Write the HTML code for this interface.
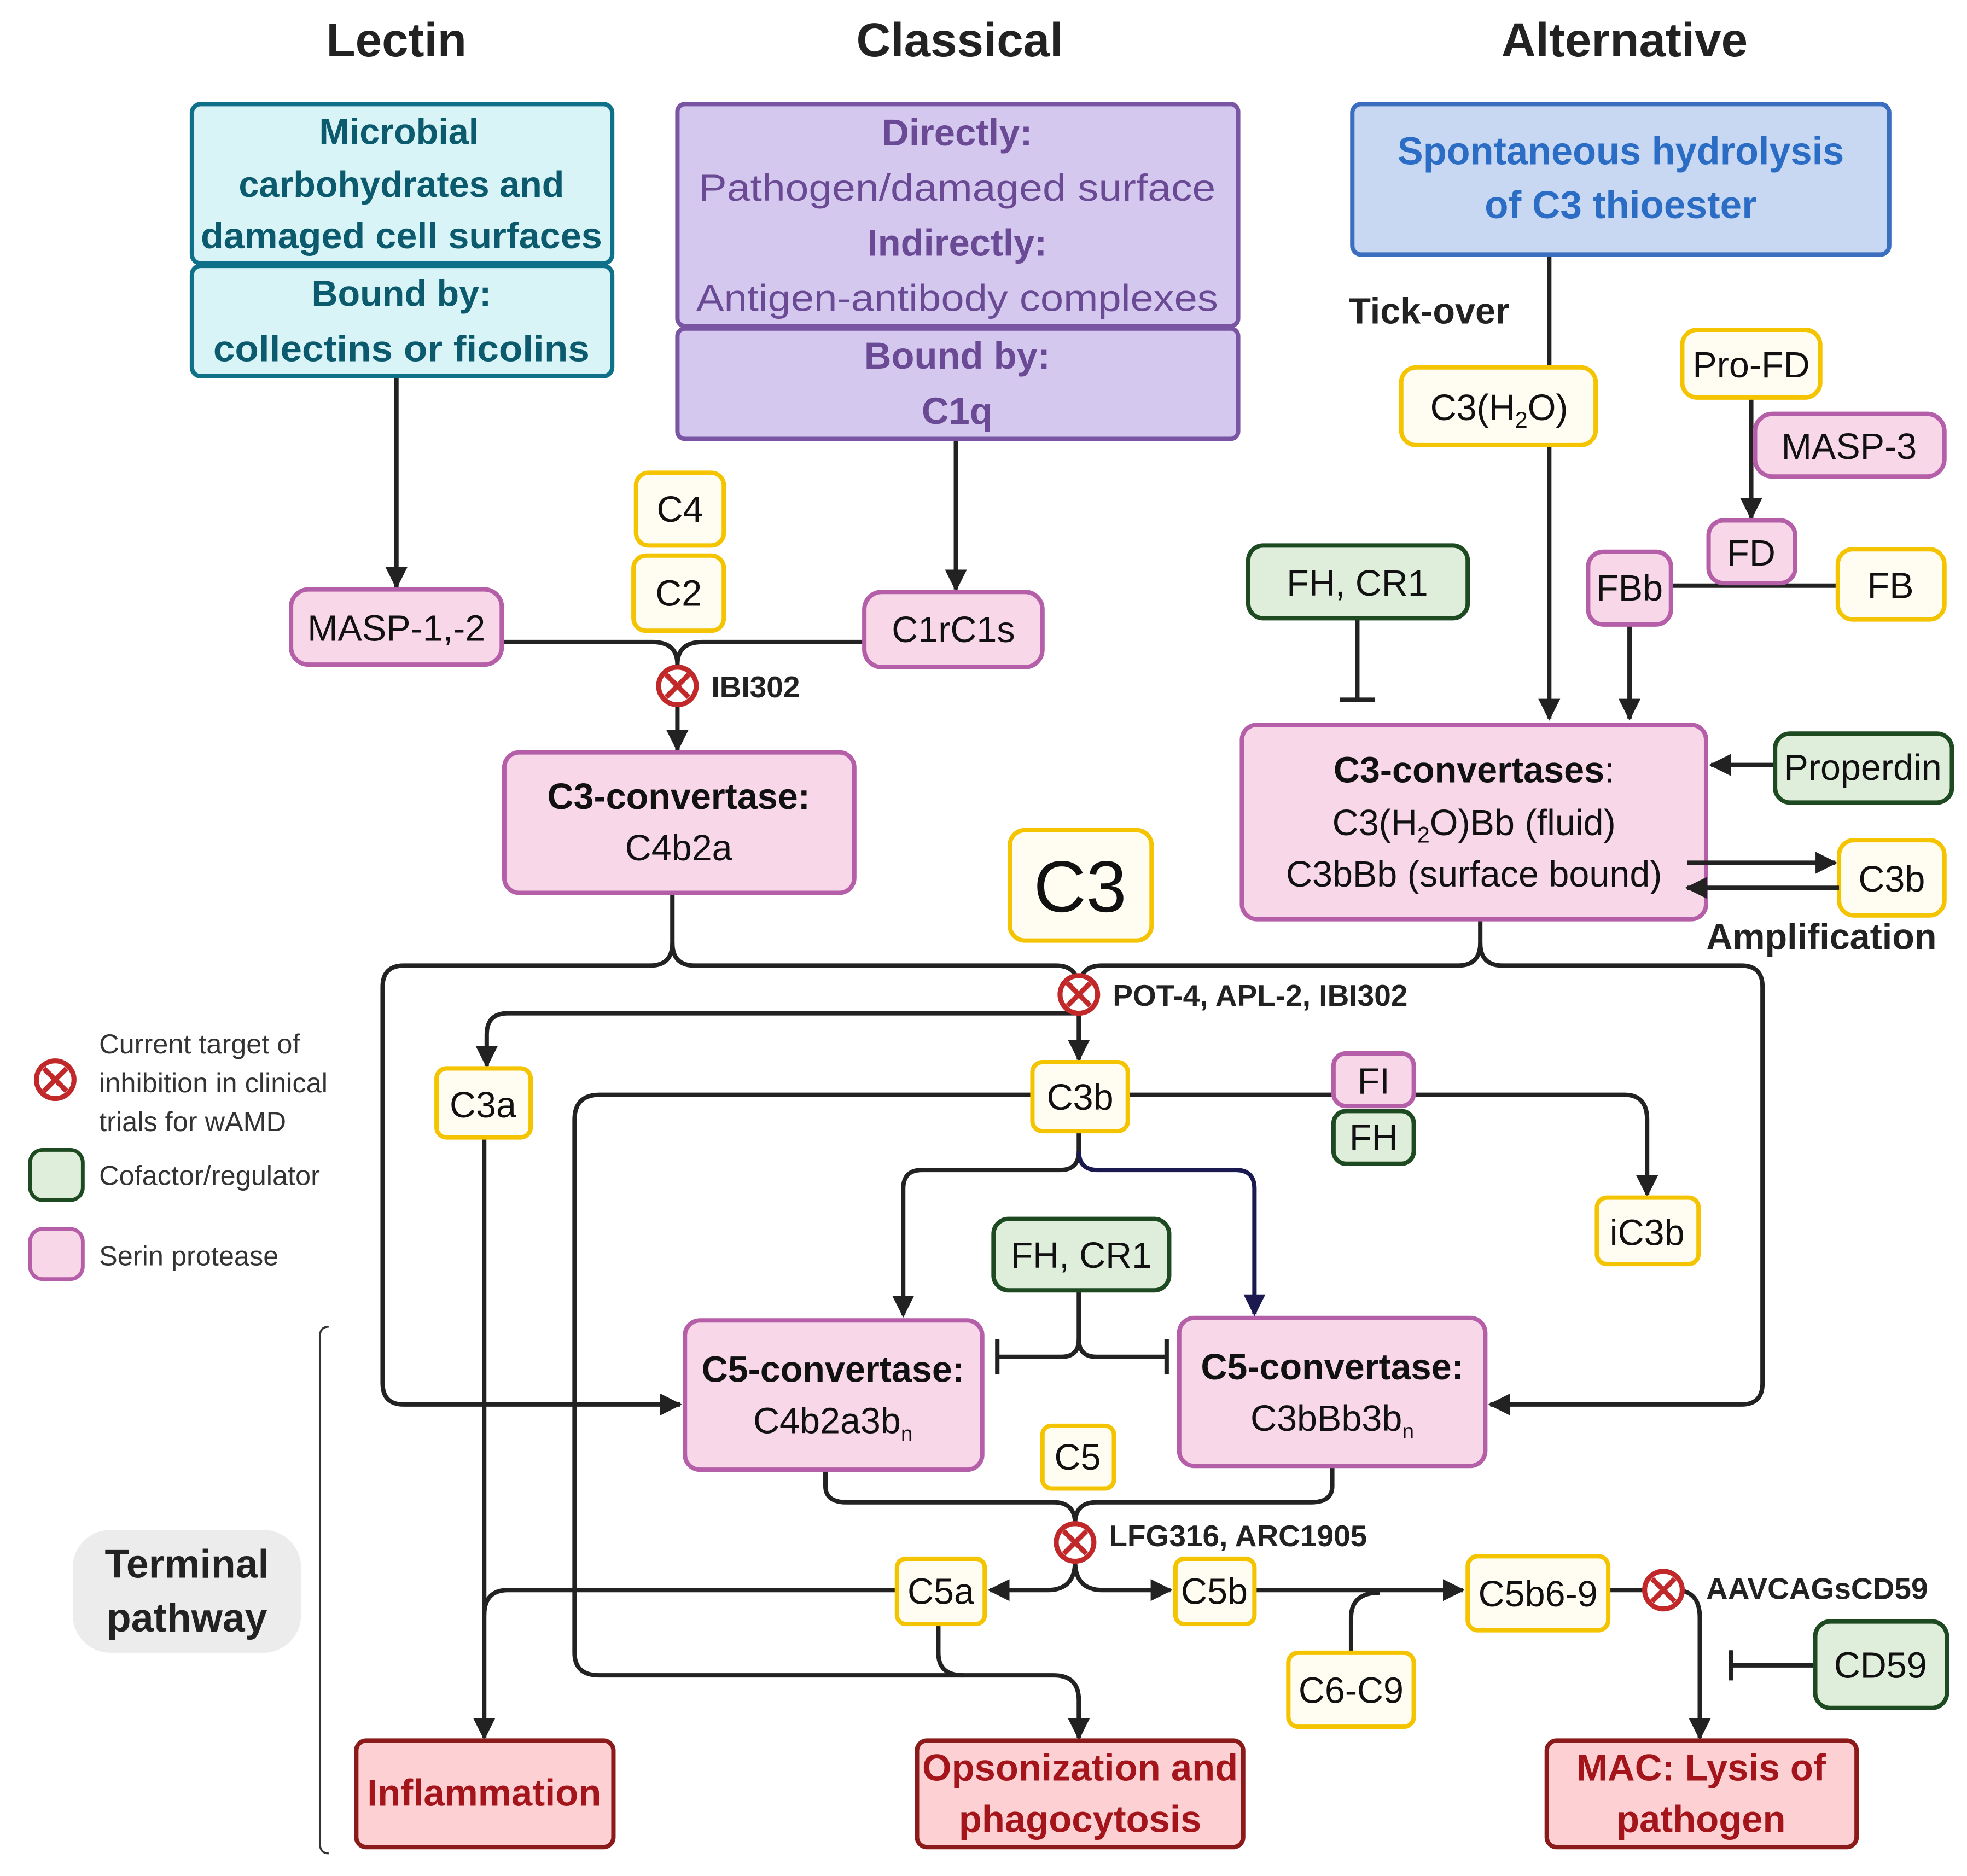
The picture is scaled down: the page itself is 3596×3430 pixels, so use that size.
<!DOCTYPE html>
<html><head><meta charset="utf-8"><style>
html,body{margin:0;padding:0;background:#fff;}
svg{display:block;}
text{font-family:"Liberation Sans Narrow","Liberation Sans",sans-serif;}
</style></head><body>
<svg width="3596" height="3430" viewBox="0 0 1568 1496" preserveAspectRatio="none" xmlns="http://www.w3.org/2000/svg">
<defs>
<marker id="a" viewBox="0 0 10 10" refX="9" refY="5" markerWidth="5" markerHeight="5" orient="auto" markerUnits="strokeWidth"><path d="M0,0L10,5L0,10z" fill="#222"/></marker>
<marker id="an" viewBox="0 0 10 10" refX="9" refY="5" markerWidth="5" markerHeight="5" orient="auto" markerUnits="strokeWidth"><path d="M0,0L10,5L0,10z" fill="#1a1a50"/></marker>
<g id="inh"><circle r="15" fill="#fff" stroke="#c0282a" stroke-width="4"/><path d="M-9,-9L9,9M9,-9L-9,9" stroke="#c0282a" stroke-width="4"/></g>
</defs>
<g fill="none" stroke="#222" stroke-width="3.5">
<path d="M316,300V468" marker-end="url(#a)"/>
<path d="M762,350V470" marker-end="url(#a)"/>
<path d="M400,512H520Q540,512 540,530V598" marker-end="url(#a)"/>
<path d="M689,512H560Q540,512 540,530"/>
<path d="M536,712V752Q536,770 518,770H322Q305,770 305,787V1103Q305,1120 322,1120H542" marker-end="url(#a)"/>
<path d="M536,752Q536,770 554,770H842Q860,770 860,790V845" marker-end="url(#a)"/>
<path d="M1180,733V752Q1180,770 1162,770H878Q860,770 860,790"/>
<path d="M1180,752Q1180,770 1198,770H1388Q1405,770 1405,787V1103Q1405,1120 1388,1120H1188" marker-end="url(#a)"/>
<path d="M860,808H405Q388,808 388,825V850" marker-end="url(#a)"/>
<path d="M899,873H1295Q1313,873 1313,893V953" marker-end="url(#a)"/>
<path d="M823,873H478Q458,873 458,893V1318Q458,1336 478,1336H840Q860,1336 860,1356V1386" marker-end="url(#a)"/>
<path d="M748,1295V1318Q748,1336 768,1336"/>
<path d="M860,902V918Q860,933 845,933H735Q720,933 720,948V1049" marker-end="url(#a)"/>
<path d="M860,918Q860,933 875,933H985Q1000,933 1000,948V1048" stroke="#1a1a50" marker-end="url(#an)"/>
<path d="M860,1029V1068Q860,1082 846,1082H795M795,1068V1096"/>
<path d="M860,1068Q860,1082 874,1082H930M930,1068V1096"/>
<path d="M658,1172V1185Q658,1198 675,1198H840Q857,1198 857,1215V1245Q857,1268 835,1268H789" marker-end="url(#a)"/>
<path d="M1062,1169V1185Q1062,1198 1045,1198H874Q857,1198 857,1215"/>
<path d="M857,1245Q857,1268 879,1268H933" marker-end="url(#a)"/>
<path d="M715,1268H405Q386,1268 386,1288"/>
<path d="M386,907V1386" marker-end="url(#a)"/>
<path d="M1000,1268H1166" marker-end="url(#a)"/>
<path d="M1077,1318V1290Q1077,1270 1100,1270"/>
<path d="M1282,1268H1335Q1355,1268 1355,1290V1386" marker-end="url(#a)"/>
<path d="M1447,1328H1380M1380,1316V1340"/>
<path d="M1082,493V558M1068,558H1096"/>
<path d="M1235,203V573" marker-end="url(#a)"/>
<path d="M1396,317V413" marker-end="url(#a)"/>
<path d="M1332,467H1465"/>
<path d="M1299,498V573" marker-end="url(#a)"/>
<path d="M1415,610H1364" marker-end="url(#a)"/>
</g>
<path d="M262,1058Q255,1058 255,1066V1470Q255,1478 262,1478" fill="none" stroke="#333" stroke-width="1.5"/>

<g font-weight="bold" font-size="38" fill="#222" text-anchor="middle">
<text x="316" y="45">Lectin</text><text x="765" y="45">Classical</text><text x="1295" y="45">Alternative</text>
</g>
<g stroke="#0e7089" stroke-width="3.5" fill="#d9f4f7"><rect x="153" y="83" width="335" height="127" rx="7"/><rect x="153" y="212" width="335" height="88" rx="7"/></g>
<g font-weight="bold" font-size="29" fill="#0b5a6e" text-anchor="middle">
<text x="318" y="115">Microbial</text><text x="320" y="157">carbohydrates and</text><text x="320" y="198" textLength="320" lengthAdjust="spacingAndGlyphs">damaged cell surfaces</text>
<text x="320" y="244">Bound by:</text><text x="320" y="288" textLength="300" lengthAdjust="spacingAndGlyphs">collectins or ficolins</text></g>
<g stroke="#7a55a3" stroke-width="3.5" fill="#d5c8ee"><rect x="540" y="83" width="447" height="177" rx="6"/><rect x="540" y="262" width="447" height="88" rx="6"/></g>
<g font-size="30" fill="#6a4a94" text-anchor="middle">
<text x="763" y="116" font-weight="bold">Directly:</text><text x="763" y="160" textLength="412" lengthAdjust="spacingAndGlyphs">Pathogen/damaged surface</text>
<text x="763" y="204" font-weight="bold">Indirectly:</text><text x="763" y="248" textLength="416" lengthAdjust="spacingAndGlyphs">Antigen-antibody complexes</text>
<text x="763" y="294" font-weight="bold">Bound by:</text><text x="763" y="338" font-weight="bold">C1q</text></g>
<rect x="1078" y="83" width="428" height="120" rx="7" fill="#c8d8f2" stroke="#3c6ec0" stroke-width="3.5"/>
<g font-weight="bold" font-size="31" fill="#2b6cc4" text-anchor="middle"><text x="1292" y="131" textLength="356" lengthAdjust="spacingAndGlyphs">Spontaneous hydrolysis</text><text x="1292" y="174">of C3 thioester</text></g>
<text x="1075" y="258" font-weight="bold" font-size="29" fill="#222">Tick-over</text>
<text x="1452" y="757" font-weight="bold" font-size="29" fill="#222" text-anchor="middle">Amplification</text>

<g fill="#fffdf2" stroke="#f4c400" stroke-width="3.5">
<rect x="507" y="377" width="70" height="58" rx="10"/>
<rect x="505" y="443" width="72" height="60" rx="10"/>
<rect x="1117" y="293" width="155" height="62" rx="12"/>
<rect x="1341" y="263" width="110" height="54" rx="12"/>
<rect x="1465" y="438" width="85" height="56" rx="12"/>
<rect x="1466" y="670" width="84" height="60" rx="12"/>
<rect x="805" y="662" width="113" height="88" rx="12"/>
<rect x="348" y="852" width="75" height="55" rx="8"/>
<rect x="823" y="847" width="76" height="55" rx="8"/>
<rect x="1273" y="955" width="81" height="53" rx="8"/>
<rect x="831" y="1137" width="57" height="50" rx="7"/>
<rect x="715" y="1243" width="70" height="52" rx="7"/>
<rect x="937" y="1243" width="63" height="52" rx="7"/>
<rect x="1170" y="1241" width="112" height="59" rx="8"/>
<rect x="1027" y="1318" width="100" height="59" rx="8"/>
</g>
<g fill="#f8d7e8" stroke="#b55fa8" stroke-width="3.5">
<rect x="232" y="470" width="168" height="60" rx="14"/>
<rect x="689" y="472" width="142" height="60" rx="14"/>
<rect x="1399" y="330" width="151" height="50" rx="14"/>
<rect x="1362" y="415" width="69" height="50" rx="12"/>
<rect x="1266" y="440" width="66" height="58" rx="12"/>
<rect x="402" y="600" width="279" height="112" rx="12"/>
<rect x="990" y="578" width="370" height="155" rx="12"/>
<rect x="546" y="1053" width="237" height="119" rx="12"/>
<rect x="940" y="1051" width="244" height="118" rx="12"/>
<rect x="1063" y="840" width="64" height="42" rx="10"/>
</g>
<g fill="#deeedb" stroke="#1e4a22" stroke-width="3.5">
<rect x="995" y="435" width="175" height="58" rx="12"/>
<rect x="1415" y="585" width="141" height="55" rx="12"/>
<rect x="1063" y="886" width="64" height="42" rx="10"/>
<rect x="792" y="972" width="140" height="57" rx="12"/>
<rect x="1447" y="1293" width="105" height="69" rx="12"/>
</g>
<g fill="#fdd0d3" stroke="#8b1a1a" stroke-width="3.5">
<rect x="284" y="1388" width="205" height="85" rx="8"/>
<rect x="731" y="1388" width="260" height="85" rx="8"/>
<rect x="1233" y="1388" width="247" height="85" rx="8"/>
</g>
<rect x="58" y="1220" width="182" height="98" rx="30" fill="#ececec"/>

<g fill="none" stroke="#222" stroke-width="3.5">
<path d="M1345,688H1463" marker-end="url(#a)"/>
<path d="M1466,708H1345" marker-end="url(#a)"/>
</g>

<g font-size="29" fill="#111" text-anchor="middle">
<text x="542" y="416">C4</text><text x="541" y="483">C2</text>
<text x="1195" y="335">C3(H<tspan font-size="18" dy="6">2</tspan><tspan dy="-6">O)</tspan></text>
<text x="1396" y="301">Pro-FD</text><text x="1507" y="477">FB</text><text x="1508" y="711">C3b</text>
<text x="861" y="727" font-size="58">C3</text>
<text x="385" y="891">C3a</text><text x="861" y="885">C3b</text><text x="1313" y="993">iC3b</text>
<text x="859" y="1172">C5</text><text x="750" y="1279">C5a</text><text x="968" y="1279">C5b</text>
<text x="1226" y="1281">C5b6-9</text><text x="1077" y="1358">C6-C9</text>
<text x="316" y="511">MASP-1,-2</text><text x="760" y="512">C1rC1s</text>
<text x="1474" y="366">MASP-3</text><text x="1396" y="451">FD</text><text x="1299" y="479">FBb</text>
<text x="1095" y="872">FI</text><text x="1095" y="917">FH</text>
<text x="1082" y="475">FH, CR1</text><text x="1485" y="622">Properdin</text>
<text x="862" y="1011">FH, CR1</text><text x="1499" y="1338">CD59</text>
<text x="541" y="645" font-weight="bold">C3-convertase:</text><text x="541" y="686">C4b2a</text>
<text x="1175" y="624" font-weight="bold">C3-convertases<tspan font-weight="normal">:</tspan></text>
<text x="1175" y="666">C3(H<tspan font-size="18" dy="6">2</tspan><tspan dy="-6">O)Bb (fluid)</tspan></text>
<text x="1175" y="707">C3bBb (surface bound)</text>
<text x="664" y="1102" font-weight="bold">C5-convertase:</text><text x="664" y="1143">C4b2a3b<tspan font-size="17" dy="6">n</tspan></text>
<text x="1062" y="1100" font-weight="bold">C5-convertase:</text><text x="1062" y="1141">C3bBb3b<tspan font-size="17" dy="6">n</tspan></text>
</g>
<g font-size="30" font-weight="bold" fill="#a3151b" text-anchor="middle">
<text x="386" y="1440">Inflammation</text>
<text x="861" y="1420">Opsonization and</text><text x="861" y="1461">phagocytosis</text>
<text x="1356" y="1420">MAC: Lysis of</text><text x="1356" y="1461">pathogen</text>
</g>
<g font-size="32" font-weight="bold" fill="#222" text-anchor="middle"><text x="149" y="1258">Terminal</text><text x="149" y="1301">pathway</text></g>

<use href="#inh" x="540" y="547"/><use href="#inh" x="860" y="793"/><use href="#inh" x="857" y="1230"/><use href="#inh" x="1326" y="1268"/><use href="#inh" x="44" y="861"/>
<g font-size="24" font-weight="bold" fill="#222">
<text x="567" y="556">IBI302</text><text x="887" y="802">POT-4, APL-2, IBI302</text><text x="884" y="1233">LFG316, ARC1905</text><text x="1360" y="1275">AAVCAGsCD59</text></g>
<rect x="24" y="917" width="42" height="40" rx="10" fill="#deeedb" stroke="#1e4a22" stroke-width="3"/>
<rect x="24" y="980" width="42" height="40" rx="10" fill="#f8d7e8" stroke="#b55fa8" stroke-width="3"/>
<g font-size="22" fill="#333"><text x="79" y="840">Current target of</text><text x="79" y="871">inhibition in clinical</text><text x="79" y="902">trials for wAMD</text><text x="79" y="945">Cofactor/regulator</text><text x="79" y="1009">Serin protease</text></g>
</svg>
</body></html>
